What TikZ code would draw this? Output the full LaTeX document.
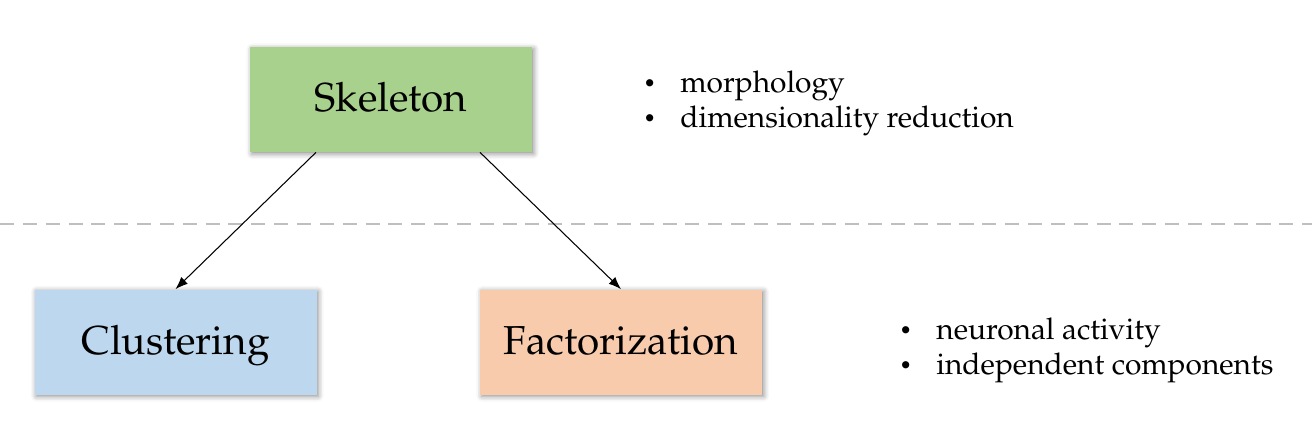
\documentclass[tikz,border=0pt]{standalone}
\usepackage[T1]{fontenc}
\usepackage{mathpazo}
\usepackage{tikz}
\usetikzlibrary{arrows.meta, calc, positioning, shadows.blur}
\definecolor{skelgreen}{HTML}{A9D18E}
\definecolor{clustblue}{HTML}{BDD7EE}
\definecolor{factorange}{HTML}{F8CBAD}
\definecolor{lineg}{HTML}{BFBFBF}
\tikzstyle{block} = [rectangle, minimum width=5.64cm, minimum height=2.1cm, text centered, inner sep=0pt, text height=16pt, text depth=2pt, font=\fontsize{23}{27}\selectfont, blur shadow={shadow xshift=1pt, shadow yshift=-1pt, shadow blur radius=3pt, shadow opacity=45}]
\tikzstyle{arrow} = [line width=0.6pt,-{Latex[length=2.5mm,width=1.9mm]}]
\tikzstyle{bullets} = [anchor=west, align=left, inner sep=0pt, font=\fontsize{17}{20}\selectfont]
\newcommand{\itembullet}{\makebox[0.74cm][l]{\raisebox{0.15ex}{\fontsize{12}{12}\selectfont\textbullet}}}

\begin{document}
\begin{tikzpicture}
\useasboundingbox (0,0) rectangle (26.24,8.54);

\node[block, fill=skelgreen] (skeleton) at (7.82,6.55) {Skeleton};
\node[block, fill=clustblue] (clustering) at (3.51,1.70) {Clustering};
\node[block, fill=factorange] (factorization) at (12.42,1.70) {Factorization};

% separator between the levels
\coordinate (sepl) at (0,4.06);
\coordinate (sepr) at (26.24,4.06);
\draw[lineg, line width=1.2pt, dash pattern=on 8pt off 5pt] (sepl) -- (sepr);

\coordinate (skelleft) at ($(skeleton.south)+(-1.5,0)$);
\coordinate (skelright) at ($(skeleton.south)+(1.78,0)$);
\draw[arrow] (skelleft) -- (clustering.north);
\draw[arrow] (skelright) -- (factorization.north);

\node[bullets] (skeltext) at (12.86,6.47) {%
\itembullet morphology\\
\itembullet dimensionality reduction};

\node[bullets] (facttext) at (17.98,1.53) {%
\itembullet neuronal activity\\
\itembullet independent components};
\end{tikzpicture}
\end{document}
